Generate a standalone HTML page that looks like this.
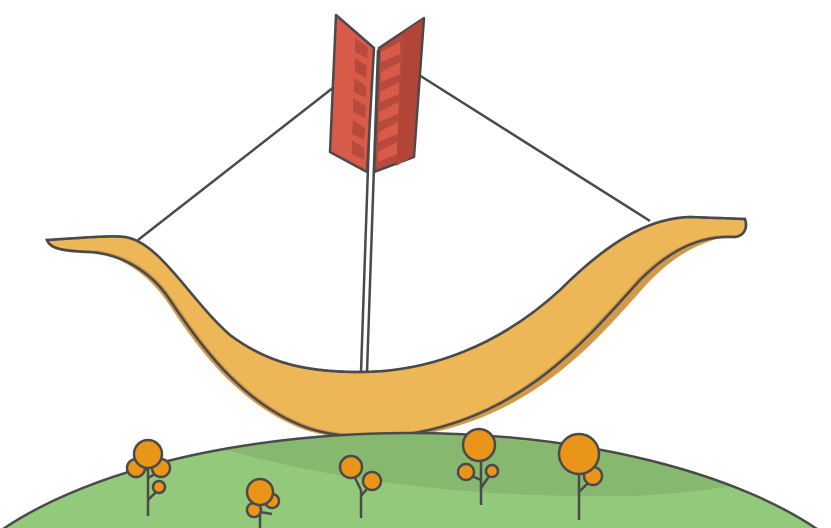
<!DOCTYPE html>
<html><head><style>html,body{margin:0;padding:0;background:#fff;overflow:hidden;width:831px;height:528px}svg{display:block}</style></head>
<body>
<svg width="831" height="528" viewBox="0 0 831 528" xmlns="http://www.w3.org/2000/svg">
<defs><clipPath id="hc"><ellipse cx="410" cy="640" rx="482" ry="207"/></clipPath></defs>
<g stroke="#4a4a4a" stroke-width="2.5" fill="none">
<line x1="138" y1="240" x2="334" y2="87"/>
<line x1="419" y1="75" x2="650" y2="221"/>
</g>
<!-- bow -->
<path d="M47,240 C80,238 110,235 125,237 C160,242 190,300 230,335 C270,365 310,372 360,372 C430,372 500,345 560,290 C610,240 650,218 690,217 L745,219 C748,228 744,236 735,237 C700,235 670,250 640,280 C590,335 530,410 420,432 C380,440 330,438 300,425 C240,400 200,345 170,300 C150,270 120,254 90,252 C60,251 50,248 47,240 Z" fill="#edb657" stroke="#4a4a4a" stroke-width="2.5"/>
<path d="M92,250 C122,252 152,268 172,298 C202,343 242,398 302,423 C332,436 380,438 420,430 C528,408 588,333 638,278 C668,248 700,233 735,235 C702,240 674,255 646,285 C596,341 536,414 420,435 C380,441 330,440 300,428 C238,403 198,349 168,303 C148,273 120,257 92,250Z" fill="#d3994a"/>
<path d="M47,240 C80,238 110,235 125,237 C160,242 190,300 230,335 C270,365 310,372 360,372 C430,372 500,345 560,290 C610,240 650,218 690,217 L745,219 C748,228 744,236 735,237 C700,235 670,250 640,280 C590,335 530,410 420,432 C380,440 330,438 300,425 C240,400 200,345 170,300 C150,270 120,254 90,252 C60,251 50,248 47,240 Z" fill="none" stroke="#4a4a4a" stroke-width="2.5"/>
<!-- hill -->
<ellipse cx="410" cy="640" rx="482" ry="207" fill="#93c97a"/>
<path clip-path="url(#hc)" d="M220,448 C300,438 360,434 410,434 C560,436 700,465 830,505 L830,470 C760,480 700,495 620,496 C470,498 330,480 220,448Z" fill="#86b86f"/>
<ellipse cx="410" cy="640" rx="482" ry="207" fill="none" stroke="#4a4a4a" stroke-width="2.5"/>
<!-- arrow shaft -->
<g stroke="#4a4a4a" stroke-width="2.5">
<line x1="361" y1="372" x2="372" y2="50"/>
<line x1="367" y1="372" x2="378" y2="50"/>
</g>
<!-- feathers -->
<polygon points="336,15 374,48 367,172 330,152" fill="#d85a48" stroke="#4a4a4a" stroke-width="2.5" stroke-linejoin="round"/>
<polygon points="424,18 379,48 374,172 414,157" fill="#b84a3d" stroke="#4a4a4a" stroke-width="2.5" stroke-linejoin="round"/>
<polygon points="422,20 404,32 396,166 413,156" fill="#b24536"/>
<g fill="#b84a3d">
<polygon points="355,38 368,48 367,58 355,52"/>
<polygon points="355,58 367,66 366,78 355,72"/>
<polygon points="354,78 366,86 366,98 354,92"/>
<polygon points="353,98 366,106 365,118 353,112"/>
<polygon points="353,120 365,128 364,140 352,134"/>
<polygon points="352,140 364,148 364,160 352,154"/>
</g>
<g fill="#d85a48">
<polygon points="381,52 400,42 400,54 381,62"/>
<polygon points="381,72 400,62 400,74 381,82"/>
<polygon points="380,92 399,82 399,94 380,102"/>
<polygon points="379,112 399,102 398,114 379,122"/>
<polygon points="379,132 398,122 398,134 378,142"/>
<polygon points="378,152 397,142 397,154 378,162"/>
</g>
<!-- trees -->
<g stroke="#4a4a4a" stroke-width="2.5" fill="#e8951a">
<line x1="148" y1="516" x2="148" y2="455"/><line x1="148" y1="500" x2="160" y2="488"/><line x1="148" y1="478" x2="162" y2="470"/><line x1="148" y1="470" x2="135" y2="466"/>
<circle cx="136" cy="468" r="9"/><circle cx="161" cy="468" r="9"/><circle cx="159" cy="487" r="6"/><circle cx="148" cy="454" r="14"/>
<line x1="260" y1="528" x2="260" y2="495"/>
<circle cx="272" cy="501" r="7"/><circle cx="254" cy="510" r="7"/><circle cx="260" cy="492" r="13"/><line x1="260" y1="512" x2="272" y2="514"/>
<line x1="361" y1="518" x2="361" y2="490"/><line x1="361" y1="490" x2="352" y2="472"/><line x1="361" y1="496" x2="372" y2="483"/>
<circle cx="351" cy="467" r="11"/><circle cx="372" cy="481" r="9"/>
<line x1="481" y1="505" x2="481" y2="450"/><line x1="481" y1="480" x2="467" y2="474"/><line x1="481" y1="488" x2="492" y2="472"/>
<circle cx="466" cy="472" r="8"/><circle cx="492" cy="471" r="6"/><circle cx="479" cy="445" r="16"/>
<line x1="579" y1="520" x2="579" y2="460"/><line x1="579" y1="492" x2="593" y2="478"/>
<circle cx="593" cy="476" r="9"/><circle cx="579" cy="454" r="20"/>
</g>
</svg>
</body></html>
